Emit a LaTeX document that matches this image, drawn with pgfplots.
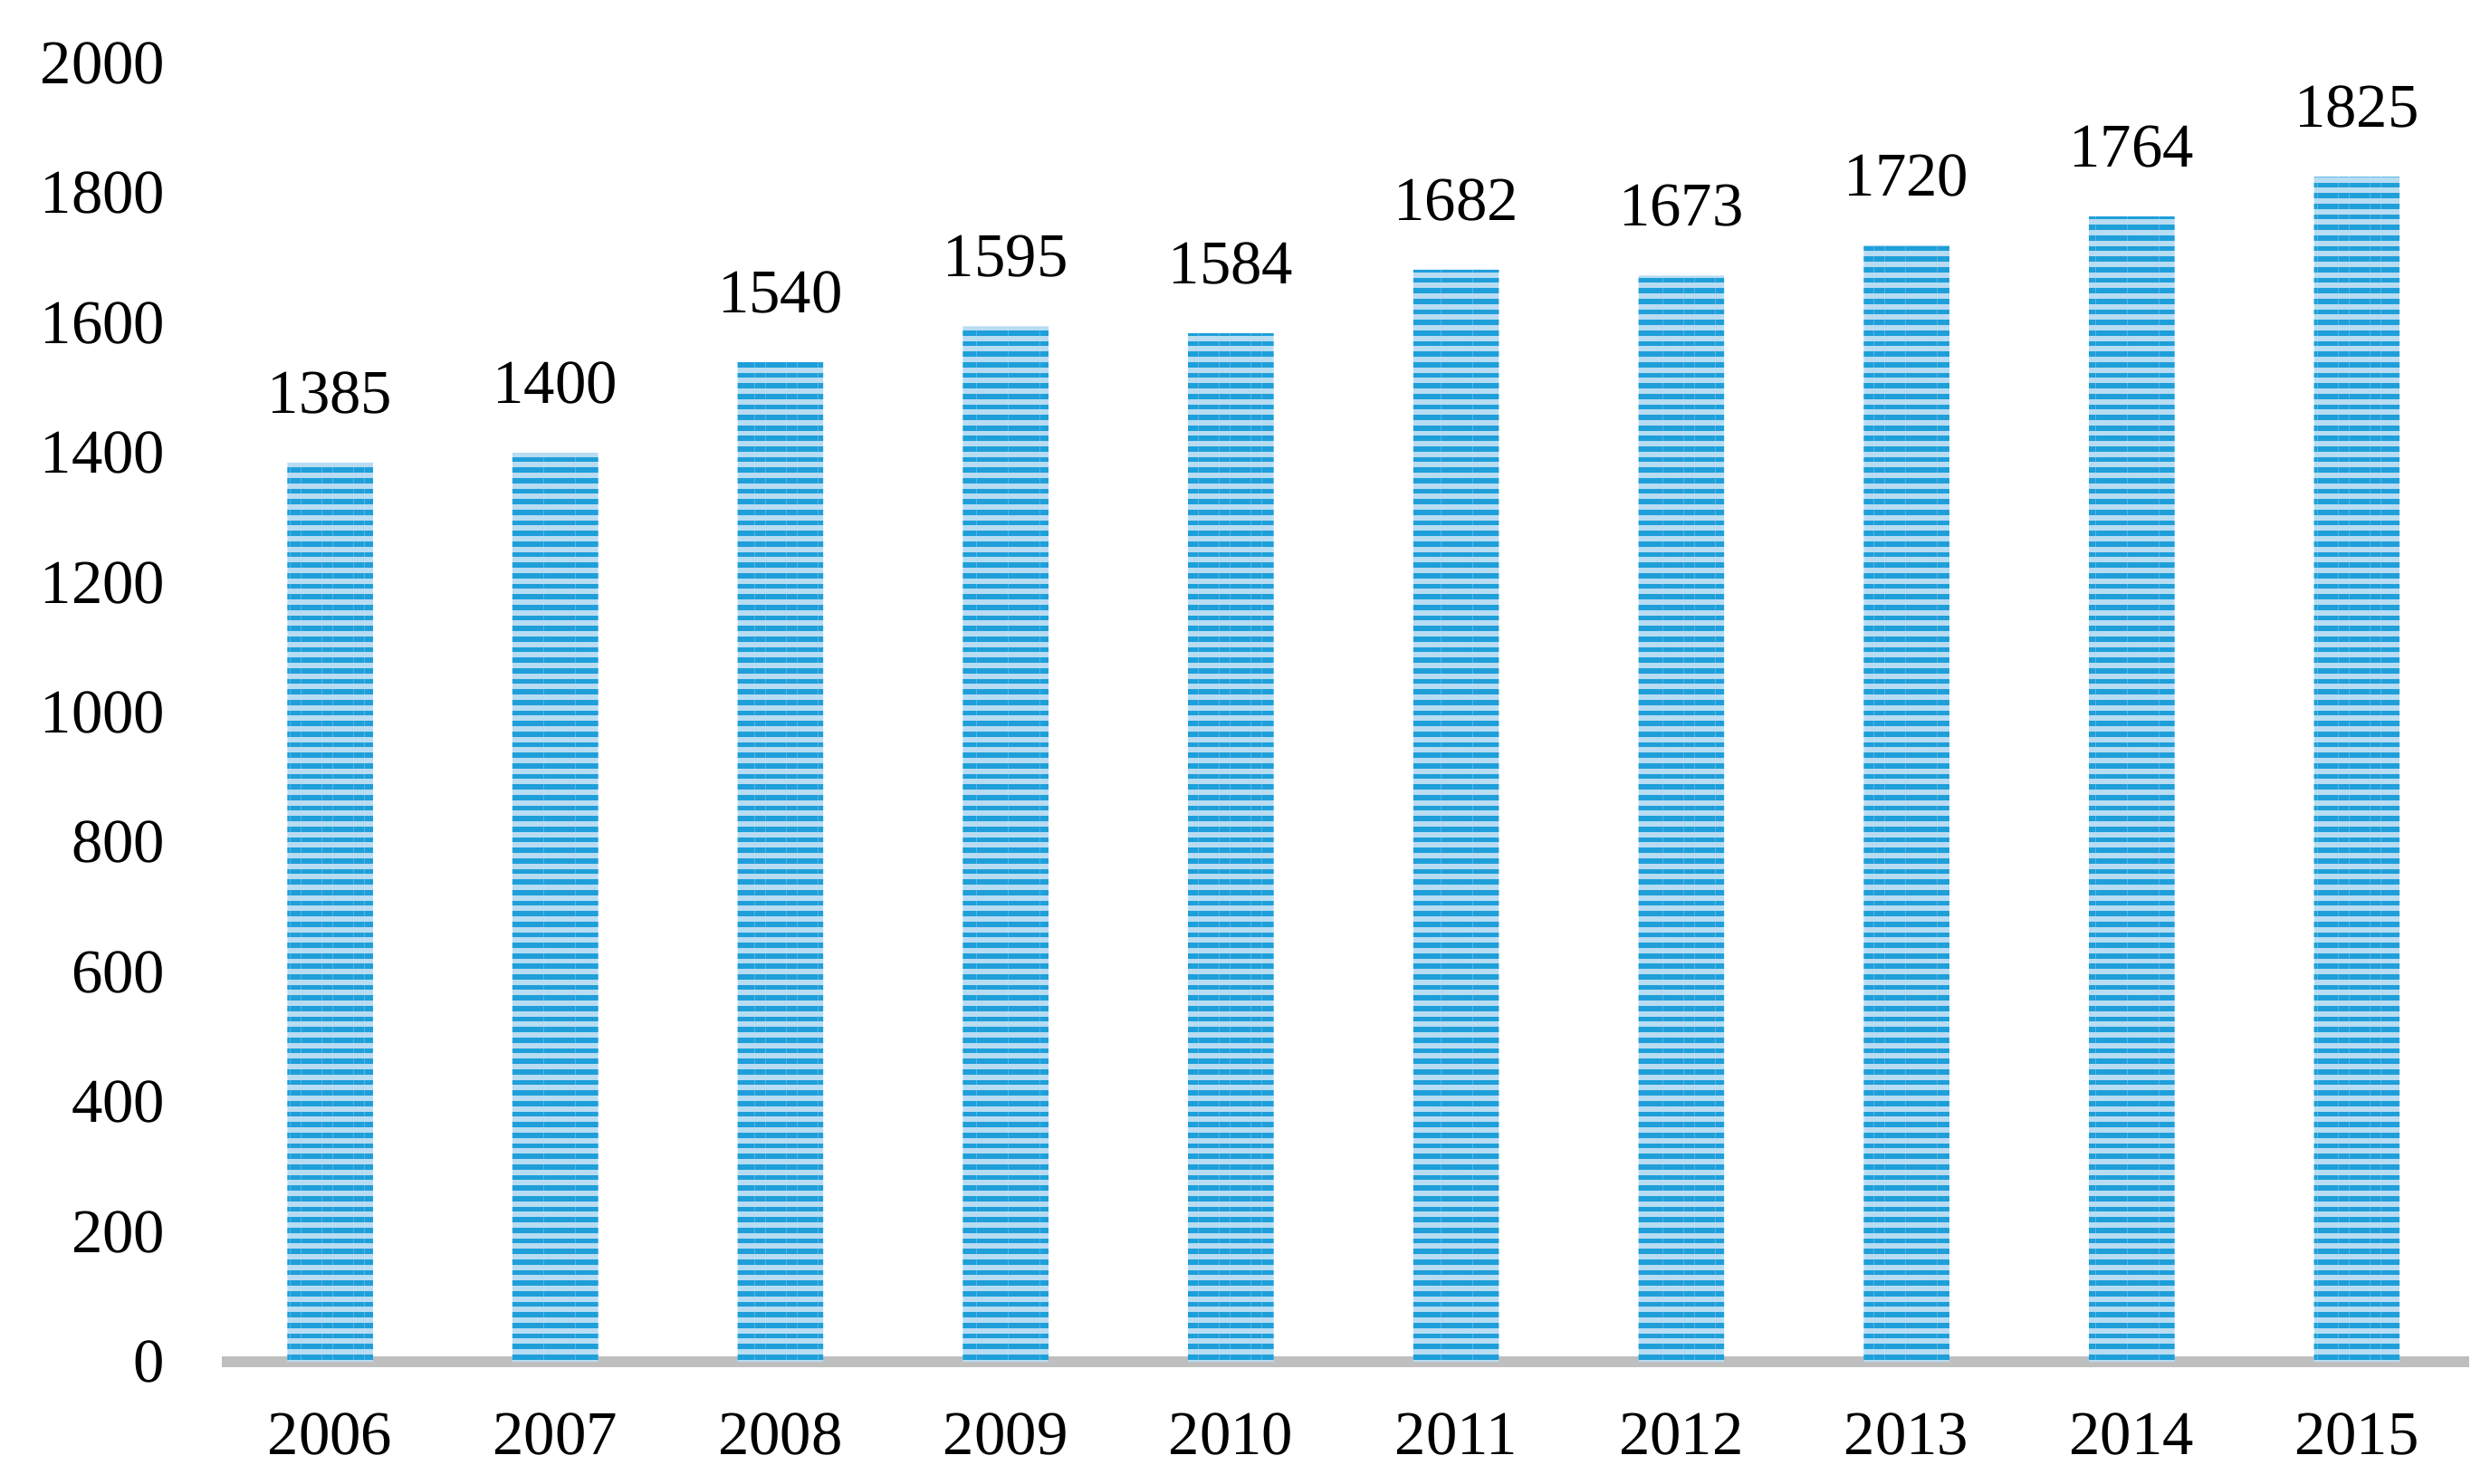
\documentclass[border=0pt]{standalone}
\usepackage{fontspec}
\setmainfont{Liberation Serif}
\usepackage{pgfplots}
\pgfplotsset{compat=1.18}
\usetikzlibrary{patterns.meta}
\definecolor{barblue}{HTML}{1E9FDA}
\definecolor{barlight}{HTML}{B8DCF2}
\definecolor{axisgray}{HTML}{BFBFBF}

\begin{document}
\begin{tikzpicture}
\begin{axis}[
  scale only axis, width=14.59cm, height=8.43cm,
  font=\fontsize{11.5}{14}\selectfont,
  xmin=-0.48, xmax=9.5, ymin=0, ymax=2000,
  ytick={0,200,...,2000}, xtick=data,
  xticklabels={2006,2007,2008,2009,2010,2011,2012,2013,2014,2015},
  /pgf/number format/assume math mode=true,
  /pgf/number format/1000 sep={},
  axis x line*=bottom, axis y line*=left,
  x axis line style={axisgray, line width=2pt, -},
  y axis line style={draw=none},
  major tick length=0pt,
  ytick style={draw=none}, xtick style={draw=none},
  yticklabel style={xshift=-7pt},
  xticklabel style={yshift=-6pt},
  ybar, bar width=0.38,
  nodes near coords,
  every node near coord/.append style={yshift=5.5pt, black},
  clip=false,
]
\addplot[fill=barlight, draw=none,
  postaction={pattern={Lines[angle=0,distance=1.95pt,line width=0.95pt]}, pattern color=barblue}]
  coordinates {(0,1385)(1,1400)(2,1540)(3,1595)(4,1584)(5,1682)(6,1673)(7,1720)(8,1764)(9,1825)};
% page margins as in the reference
\path (rel axis cs:0,0) ++(-41pt,-22.5pt) (rel axis cs:1,1) ++(3.8pt,11.7pt);
\end{axis}
\end{tikzpicture}
\end{document}
